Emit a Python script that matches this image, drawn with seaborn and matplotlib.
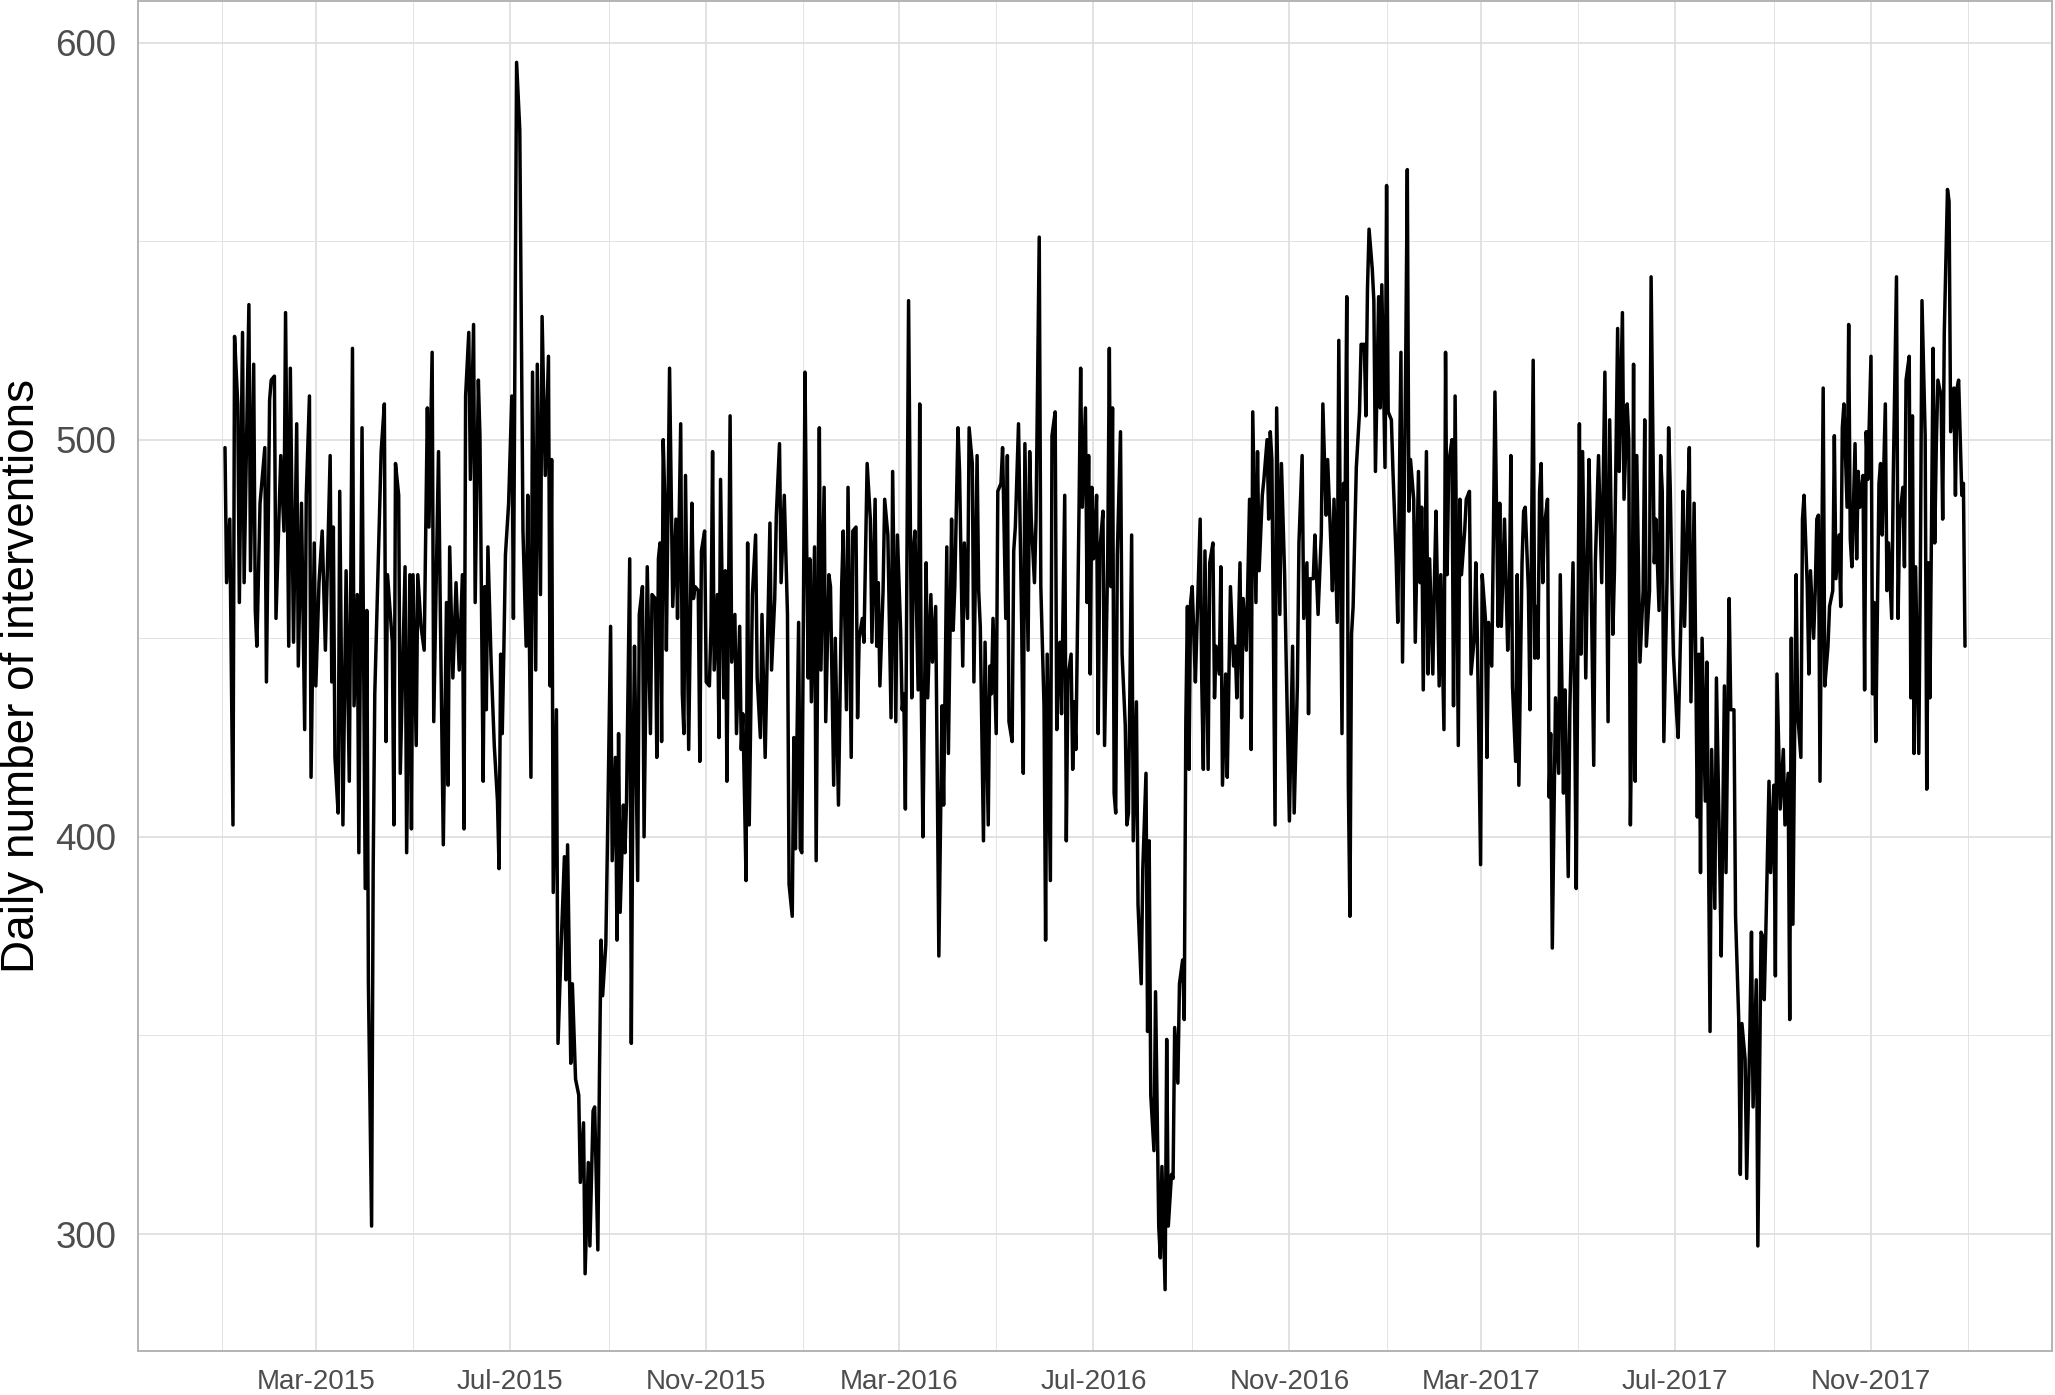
import numpy as np
import pandas as pd
import matplotlib
matplotlib.use("Agg")
import matplotlib.pyplot as plt
import matplotlib.dates as mdates
import seaborn as sns

# Day offsets are counted from this date
start_date = "2015-01-01"

days_2015 = [2, 3, 5, 7, 8, 10, 11, 13, 14, 17, 18, 20, 21, 22, 24, 27, 28, 30, 31, 33, 34, 37, 39, 40, 42, 43, 45, 47, 48, 50,
             52, 53, 55, 56, 58, 59, 61, 63, 65, 68, 69, 70, 71, 73, 74, 76, 78, 80, 82, 83, 85, 86, 88, 90, 91, 92, 94, 95, 96, 98,
             100, 102, 103, 104, 107, 108, 109, 111, 112, 115, 116, 118, 119, 120, 122, 123, 125, 127, 129, 130, 132, 133,
             136, 137, 139, 141, 142, 143, 145, 147, 149, 151, 152, 153, 155, 156, 158, 159, 161, 162, 164, 165, 166, 167, 169, 171,
             173, 174, 175, 176, 177, 178, 180, 182, 183, 185, 187, 188, 189, 191, 192, 194, 195, 197, 198, 200, 201, 203, 205, 206,
             207, 208, 210, 211, 213, 215, 216, 217, 219, 220, 222, 224, 225, 227, 228, 230, 231, 233, 234, 236, 237, 238, 239, 241,
             242, 244, 245, 247, 248, 249, 250, 252, 253, 254, 256, 257, 258, 259, 261, 262, 264, 265, 267, 269, 270,
             272, 273, 274, 275, 276, 277, 278, 279, 281, 282, 283, 285, 286, 288, 289, 290, 291, 293, 295, 296, 297, 299, 300, 301,
             303, 304, 306, 307, 308, 309, 311, 312, 313, 315, 316, 317, 319, 320, 322, 323, 325, 326, 327, 328, 329, 330, 331, 333,
             335, 336, 338, 339, 341, 343, 344, 345, 347, 348, 350, 351, 353, 355, 356, 358, 359, 360, 362, 363, 364]
vals_2015 = [498, 464, 480, 403, 526, 509, 459, 527, 464, 534, 467, 519, 457, 448, 484, 498, 439, 510, 515, 516, 455, 496, 477, 532, 448, 518, 449, 504, 443, 484,
             427, 486, 511, 415, 474, 438, 464, 477, 447, 496, 439, 478, 420, 406, 487, 403, 467, 414, 523, 433, 461, 396, 503, 387, 457, 363, 302, 392, 436, 466,
             497, 509, 424, 466, 449, 403, 494, 486, 416, 468, 396, 466, 402, 466, 423, 466, 453, 447, 508, 478, 522, 429,
             497, 461, 398, 459, 413, 473, 440, 464, 442, 466, 402, 511, 527, 490, 529, 459, 515, 501, 414, 463, 432, 473, 444, 423,
             409, 392, 446, 426, 447, 471, 484, 511, 455, 595, 578, 529, 477, 448, 486, 415, 517, 442, 519, 461, 531, 491, 521, 438,
             495, 386, 432, 348, 373, 395, 364, 398, 343, 363, 339, 335, 313, 328, 290, 318, 297, 331, 332, 296, 340, 374, 360, 373,
             398, 453, 394, 420, 374, 426, 381, 408, 396, 409, 470, 348, 414, 448, 389, 456, 463, 400, 468, 426, 461,
             460, 420, 470, 474, 424, 500, 485, 447, 518, 489, 458, 480, 455, 504, 436, 426, 491, 422, 484, 460, 463, 462, 419, 472,
             477, 439, 438, 453, 497, 442, 461, 425, 490, 435, 467, 414, 506, 444, 456, 426, 453, 422, 431, 411, 389, 474, 403, 461,
             476, 440, 425, 456, 420, 460, 479, 442, 460, 481, 499, 464, 486, 456, 388, 380, 425, 397, 454, 397, 396]

days_2016 = [366, 367, 368, 369, 370, 372, 373, 375, 376, 378, 379, 381, 382, 384, 385, 387, 389, 390, 392, 393, 395, 396, 398, 399,
             400, 402, 403, 405, 407, 408, 410,
             411, 412, 413, 415, 416, 418, 420, 421, 423, 424, 426, 427, 428, 429, 431, 433, 434, 435, 437, 438, 439, 440, 442, 443,
             445, 446, 448, 449, 450, 452, 453, 454, 455, 456, 458, 459, 460, 462, 463, 465, 466, 468, 469, 471, 472, 474, 475, 476,
             478, 479, 481, 482, 483, 484, 486, 487, 489, 490, 492, 493, 494, 496, 497, 498, 500, 502, 503, 504, 506, 507, 508, 510,
             511, 513, 514, 516, 517, 518, 520, 521, 523, 524, 525, 526, 527, 529, 530, 531, 533, 534, 535, 536, 538, 539, 540, 542,
             543, 544, 545, 546, 547,
             548, 549, 550, 551, 553, 554, 556, 557, 558, 559, 560, 561, 562, 564, 565, 567, 568, 569, 571, 572, 574, 575, 577, 578,
             580, 581, 582, 583, 585, 586, 588, 589, 590, 592, 593, 594, 596, 597, 598, 600, 601, 603, 604, 605, 606, 607, 608, 609,
             611, 612, 614, 615, 616, 617, 619, 620, 622, 623, 624, 626, 627, 628, 630, 631, 633, 635, 636, 637, 639, 640, 641, 643,
             645, 646, 647, 649, 650, 651, 653, 654, 656, 657, 658, 659, 661, 662, 664, 665, 667, 668, 670, 672, 673, 675, 676, 678,
             679, 681, 682, 683, 685, 686,
             688, 690, 691, 693, 694, 696, 697, 698, 700, 701, 703, 704, 705, 706, 707, 708, 709, 710, 712, 714, 715, 717, 718, 719,
             720, 722, 723, 724, 726, 727, 728, 730]
vals_2016 = [517, 475, 440, 470, 434, 473, 394, 503, 442, 488, 429, 466, 463, 413, 450, 408, 463, 477, 432, 488, 420, 477, 478, 430,
             450, 455, 449, 494, 480, 449, 485,
             448, 464, 438, 462, 485, 476, 430, 492, 429, 476, 452, 432, 436, 407, 535, 435, 472, 477, 437, 509, 435, 400, 469, 435,
             461, 444, 458, 416, 370, 433, 408, 441, 473, 421, 480, 452, 463, 503, 492, 443, 474, 455, 503, 494, 439, 496, 462, 453,
             399, 449, 403, 443, 436, 455, 426, 487, 489, 498, 455, 496, 429, 424, 472, 478, 504, 453, 416, 499, 447, 497, 480, 464,
             480, 551, 463, 433, 374, 446, 389, 501, 507, 427, 443, 449, 431, 486, 399, 440, 446, 417, 434, 422, 483, 518, 483, 508,
             459, 496, 441, 488, 470,
             477, 486, 426, 472, 482, 423, 471, 523, 463, 508, 411, 406, 471, 502, 446, 428, 403, 406, 476, 399, 434, 383, 363, 392,
             416, 351, 399, 335, 321, 361, 302, 294, 317, 286, 349, 302, 315, 314, 352, 338, 363, 369, 354, 429, 458, 417, 459, 463,
             439, 453, 480, 439, 417, 472, 417, 469, 474, 435, 448, 441, 468, 413, 441, 415, 463, 443, 448, 435, 469, 430, 460, 447,
             485, 422, 507, 459, 497, 467, 486, 490, 500, 480, 502, 495, 403, 508, 456, 494, 466, 444, 404, 448, 406, 438, 474, 496,
             455, 469, 431, 465, 465, 476,
             456, 476, 509, 481, 495, 474, 462, 485, 454, 525, 426, 489, 485, 536, 413, 380, 451, 458, 493, 507, 524, 524, 506, 538,
             553, 543, 535, 492, 536, 508, 539, 493]

days_2017 = [731, 732, 734, 735, 737, 738, 740, 741, 743, 744, 745, 746, 748, 749, 751, 752, 753, 754, 756, 757, 758, 760, 761, 762,
             764, 765, 767, 768, 769, 770, 772, 773, 774, 776, 777, 778, 780, 781, 783, 784, 786, 787, 788, 790, 791, 793, 794, 795,
             797, 798, 799, 801, 802, 803, 805, 807, 808, 809, 810, 812, 813, 814, 816, 817, 818, 820, 821, 823, 824,
             825, 826, 827, 828, 829, 830, 832, 833, 834, 835, 837, 839, 840, 842, 843, 845, 846, 848, 849, 850, 852, 853, 854, 856,
             858, 859, 861, 862, 864, 866, 868, 870, 871, 873, 874, 876, 877, 879, 880, 882, 883, 884, 885, 886, 887, 888, 890, 892,
             893, 894, 896, 897, 899, 900, 902, 903, 904, 905, 907, 908, 909, 910, 911, 913, 914, 916, 917, 918, 920, 921, 922, 924,
             926, 927, 928, 929, 931, 932, 934, 935, 937, 938, 940, 941, 943, 944, 946, 947, 949, 950, 952, 953, 954, 956, 957, 959,
             960, 961, 963, 964,
             966, 967, 968, 969, 971, 972, 974, 975, 976, 978, 980, 981, 983, 984, 985, 986, 988, 989, 991, 992, 993, 995, 996, 997,
             999, 1000, 1001, 1002, 1003, 1005, 1006, 1008, 1009, 1011, 1012, 1013, 1015, 1016, 1017, 1018, 1020, 1021, 1022, 1023,
             1025, 1026, 1027, 1028, 1030, 1031, 1032, 1033, 1035, 1036, 1037, 1038, 1040, 1041, 1042, 1044, 1045, 1046, 1048, 1049,
             1051, 1052, 1053, 1055, 1056, 1057, 1059, 1060, 1061, 1062, 1063, 1065, 1066, 1067, 1069, 1070, 1071, 1072, 1074, 1075,
             1076, 1077, 1079, 1080, 1081, 1083, 1084, 1085, 1087, 1088, 1089, 1090, 1092, 1093, 1094]
vals_2017 = [564, 507, 505, 492, 470, 454, 522, 444, 520, 568, 482, 495, 485, 449, 492, 464, 483, 437, 497, 441, 470, 441, 464, 482,
             438, 466, 427, 522, 466, 494, 500, 433, 511, 423, 485, 466, 477, 485, 487, 441, 450, 469, 449, 393, 466, 455, 420, 454,
             443, 475, 512, 453, 484, 453, 480, 447, 459, 496, 438, 419, 466, 413, 469, 482, 483, 462, 432, 520, 445,
             458, 445, 487, 494, 464, 478, 485, 410, 426, 372, 435, 416, 466, 411, 437, 390, 432, 469, 433, 387, 504, 446, 497, 440,
             495, 476, 418, 469, 496, 464, 517, 429, 505, 451, 467, 528, 492, 532, 485, 509, 500, 403, 435, 519, 414, 496, 444, 462,
             505, 448, 462, 541, 469, 480, 457, 496, 487, 424, 465, 503, 488, 465, 446, 431, 425, 460, 487, 453, 484, 498, 434, 484,
             405, 446, 391, 450, 409, 444, 351, 422, 382, 440, 395, 370, 438, 391, 460, 432, 432, 380, 354, 315, 353, 344, 314, 351,
             376, 332, 364, 297,
             376, 375, 359, 376, 414, 391, 413, 365, 441, 407, 422, 403, 416, 354, 450, 378, 466, 431, 420, 480, 486, 463, 441, 467,
             450, 462, 480, 481, 414, 513, 438, 448, 458, 462, 501, 465, 476, 458, 503, 509, 483, 529, 475, 468,
             499, 470, 492, 483, 491, 437, 502, 490, 521, 436, 459, 424, 489, 494, 476, 509, 462, 474, 455, 491,
             541, 455, 480, 488, 468, 515, 521, 435, 506, 421, 468, 421, 468, 535, 501, 412, 469, 435, 523, 474,
             499, 515, 511, 480, 527, 563, 560, 502, 513, 486, 513, 515, 486, 489, 448]

y_ticks = [300, 400, 500, 600]
y_minor_ticks = [350, 450, 550]
y_label = "Daily number of interventions"
x_label_format = "%b-%Y"

days = days_2015 + days_2016 + days_2017
vals = vals_2015 + vals_2016 + vals_2017
assert len(days) == len(vals)
dates = pd.Timestamp(start_date) + pd.to_timedelta(days, unit="D")
df = pd.DataFrame({"date": dates, "interventions": vals})

sns.set_theme(style="white")
plt.rcParams["font.family"] = ["Liberation Sans", "DejaVu Sans"]

W, H = 2055, 1395
fig = plt.figure(figsize=(W / 100, H / 100), dpi=100)
ax = fig.add_axes([138 / W, 1 - 1351 / H, (2052 - 138) / W, 1350 / H])

sns.lineplot(data=df, x="date", y="interventions", color="black",
             linewidth=2.5, estimator=None, ax=ax)

# ggplot-like 5% expansion
dmin, dmax = df["date"].min(), df["date"].max()
span = dmax - dmin
ax.set_xlim(dmin - 0.05 * span, dmax + 0.05 * span)
vmin, vmax = df["interventions"].min(), df["interventions"].max()
vr = vmax - vmin
ax.set_ylim(vmin - 0.05 * vr, vmax + 0.05 * vr)

ax.xaxis.set_major_locator(mdates.MonthLocator(bymonth=[3, 7, 11]))
ax.xaxis.set_minor_locator(mdates.MonthLocator(bymonth=[1, 5, 9]))
ax.xaxis.set_major_formatter(mdates.DateFormatter(x_label_format))
ax.set_yticks(y_ticks)
ax.set_yticks(y_minor_ticks, minor=True)

ax.set_axisbelow(True)
ax.grid(which="major", color="#DEDEDE", linewidth=1.25)
ax.grid(which="minor", color="#E3E3E3", linewidth=0.7)

for sp in ax.spines.values():
    sp.set_visible(True)
    sp.set_color("#B3B3B3")
    sp.set_linewidth(1.4)

ax.tick_params(which="major", axis="both", color="#B3B3B3", length=8, width=1.4,
               labelcolor="#4D4D4D")
ax.tick_params(which="minor", length=0)
ax.tick_params(axis="x", labelsize=20, pad=5)
ax.tick_params(axis="y", labelsize=26.5, pad=7.5)

ax.set_xlabel("")
ax.set_ylabel(y_label, fontsize=33, color="black")
ax.yaxis.set_label_coords(-0.0490, 0.5)

fig.savefig("out.png", dpi=100)
